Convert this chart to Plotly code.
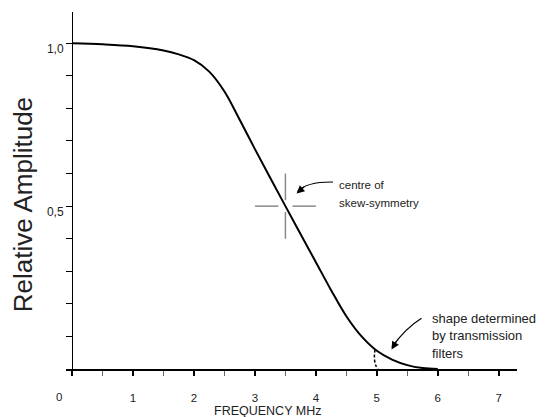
import plotly.graph_objects as go

# Curve data (frequency MHz, relative amplitude)
freq = [0.0, 0.5, 1.0, 1.5, 1.75, 2.0, 2.25, 2.5, 2.75, 3.0, 3.25, 3.5,
        3.75, 4.0, 4.25, 4.5, 4.75, 5.0, 5.25, 5.5, 5.75, 6.0]
amp = [1.000, 0.997, 0.991, 0.978, 0.966, 0.948, 0.913, 0.852, 0.765, 0.675, 0.587, 0.500,
       0.414, 0.328, 0.242, 0.162, 0.100, 0.056, 0.029, 0.012, 0.003, 0.000]

# Dashed cutoff near 5 MHz
cut_freq = [4.97, 4.96, 4.98, 5.02]
cut_amp = [0.060, 0.035, 0.012, 0.000]

x_major = [0, 1, 2, 3, 4, 5, 6, 7]
x_major_text = ["", "1", "2", "3", "4", "5", "6", "7"]
x_minor = [0.5, 1.5, 2.5, 3.5, 4.5, 5.5, 6.5]
y_ticks = [0.1, 0.2, 0.3, 0.4, 0.5, 0.6, 0.7, 0.8, 0.9, 1.0]
y_tick_text = ["", "", "", "", "0,5", "", "", "", "", "1,0"]

centre = (3.5, 0.5)

XR = [-0.1, 7.3]
YR = [0, 1.096]
FONT = "Liberation Sans, Arial, sans-serif"

fig = go.Figure()
fig.add_trace(go.Scatter(x=freq, y=amp, mode="lines", line=dict(color="black", width=2, shape="spline"),
                         showlegend=False, hoverinfo="skip"))
fig.add_trace(go.Scatter(x=cut_freq, y=cut_amp, mode="lines",
                         line=dict(color="black", width=1.5, dash="3px,2px", shape="spline"),
                         showlegend=False, hoverinfo="skip"))

# crosshair at centre of skew-symmetry
cx, cy = centre
gcol = "#8a8a8a"
for x0, x1 in [(cx - 0.5, cx - 0.115), (cx + 0.115, cx + 0.5)]:
    fig.add_shape(type="line", x0=x0, x1=x1, y0=cy, y1=cy, line=dict(color=gcol, width=1.5))
for y0, y1 in [(cy - 0.1, cy - 0.018), (cy + 0.018, cy + 0.1)]:
    fig.add_shape(type="line", x0=cx, x1=cx, y0=y0, y1=y1, line=dict(color=gcol, width=1.5))

# curved arrows
fig.add_shape(type="path", path="M 4.279,0.574 Q 3.85,0.575 3.70,0.545",
              line=dict(color="black", width=1.2))
fig.add_annotation(x=3.684, y=0.539, ax=9, ay=-8, text="", showarrow=True,
                   arrowhead=2, arrowsize=1.3, arrowwidth=1.2, arrowcolor="black")
fig.add_shape(type="path", path="M 5.733,0.156 Q 5.475,0.126 5.25,0.068",
              line=dict(color="black", width=1.2))
fig.add_annotation(x=5.241, y=0.060, ax=6, ay=-10, text="", showarrow=True,
                   arrowhead=2, arrowsize=1.3, arrowwidth=1.2, arrowcolor="black")

# annotation texts
def txt(s, x, y, size):
    fig.add_annotation(x=x, y=y, text=s, showarrow=False, xanchor="left", yanchor="middle",
                       font=dict(family=FONT, size=size, color="#222"))

txt("centre of", 4.344, 0.565, 11.5)
txt("skew-symmetry", 4.344, 0.510, 11.5)
txt("shape determined", 5.88, 0.156, 13)
txt("by transmission", 5.88, 0.102, 13)
txt("filters", 5.88, 0.048, 13)

# "0" tick label, shifted left of the origin
fig.add_annotation(x=(-0.21 - XR[0]) / (XR[1] - XR[0]), y=-0.078, xref="paper", yref="paper",
                   text="0", showarrow=False, xanchor="center", yanchor="middle",
                   font=dict(family=FONT, size=11.5, color="#222"))

# axis titles
fig.add_annotation(x=(3.2 - XR[0]) / (XR[1] - XR[0]), y=-0.1165, xref="paper", yref="paper",
                   text="FREQUENCY MHz", showarrow=False, xanchor="center", yanchor="middle",
                   font=dict(family=FONT, size=12.5, color="#222"))
fig.add_annotation(x=-0.095, y=0.459, xref="paper", yref="paper", textangle=-90,
                   text="Relative Amplitude", showarrow=False, xanchor="center", yanchor="middle",
                   font=dict(family=FONT, size=26, color="#222"))

# page has an 8px body margin, so the figure is 8px smaller on each axis
fig.update_layout(
    width=537, height=409,
    margin=dict(l=58, r=28, t=4, b=48),
    paper_bgcolor="white", plot_bgcolor="white",
    font=dict(family=FONT, size=12, color="#222"),
    xaxis=dict(range=XR, showgrid=False, zeroline=False, showline=True, linecolor="black", linewidth=1.5,
               ticks="outside", ticklen=5, tickwidth=2, tickcolor="black",
               tickmode="array", tickvals=x_major, ticktext=x_major_text, ticklabelstandoff=12,
               tickfont=dict(family=FONT, size=11.5, color="#222"),
               minor=dict(tickmode="array", tickvals=x_minor, ticks="outside", ticklen=5,
                          tickwidth=1, tickcolor="#666")),
    yaxis=dict(range=YR, anchor="free", position=(0 - XR[0]) / (XR[1] - XR[0]),
               showgrid=False, zeroline=False, showline=True, linecolor="black", linewidth=1.2,
               ticks="outside", ticklen=6, tickwidth=1, tickcolor="black",
               tickmode="array", tickvals=y_ticks, ticktext=y_tick_text, ticklabelshift=6,
               tickfont=dict(family=FONT, size=12, color="#222")),
)

fig.write_html("out.html")
